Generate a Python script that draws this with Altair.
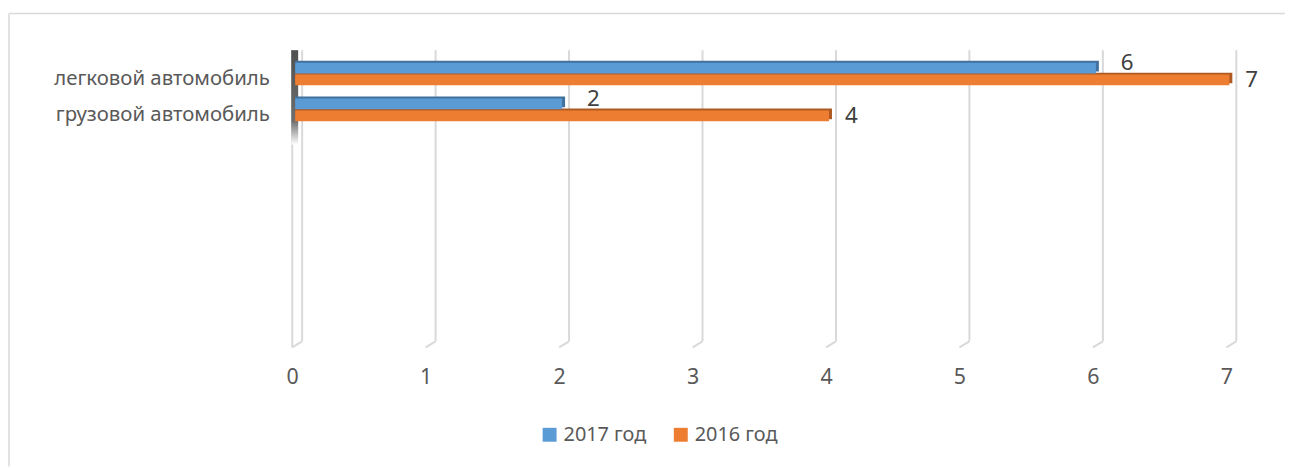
import altair as alt
import pandas as pd

# ---- data ----
categories = ["легковой автомобиль", "грузовой автомобиль"]
series = ["2017 год", "2016 год"]
values_2017 = [6, 2]
values_2016 = [7, 4]
x_ticks = [0, 1, 2, 3, 4, 5, 6, 7]

# ---- styling ----
front_colors = ["#5B9BD5", "#ED7D31"]
depth_colors = ["#41719C", "#AE5A21"]
grid_color = "#D9D9D9"
text_color = "#595959"
value_color = "#404040"
FONT = "Noto Sans"

W, H = 940, 293
PAD = {"left": 289, "top": 41, "right": 56, "bottom": 126}

rows = []
for s, vals in zip(series, [values_2017, values_2016]):
    for c, v in zip(categories, vals):
        rows.append({"category": c, "series": s, "value": v, "key": f"{c}|{s}"})
df = pd.DataFrame(rows)

y_domain = []
for c in categories:
    y_domain += [f"{c}|{s}" for s in series] + [f"{c}|_gap"]

grid_df = pd.DataFrame({"v": x_ticks})
one = pd.DataFrame({"a": [0]})

xscale = alt.Scale(domain=[x_ticks[0], x_ticks[-1]], nice=False, zero=True)
yscale = alt.Scale(domain=y_domain, range=[12, 84], paddingInner=0.1, paddingOuter=0.05)

first = series[0]
label_expr = f"indexof(datum.value, '|{first}') >= 0 ? split(datum.value, '|')[0] : ''"

x_axis = alt.Axis(values=x_ticks, grid=False, domain=False, ticks=False, format="d", title=None,
                  labelFontSize=21.5, labelColor=text_color, labelFont=FONT,
                  labelPadding=25, labelOffset=-3, labelFlush=False)
y_axis = alt.Axis(labelExpr=label_expr, grid=False, domain=False, ticks=False, title=None,
                  labelFontSize=20.5, labelColor=text_color, labelFont=FONT,
                  labelPadding=26, labelOffset=11, labelLimit=500, labelAlign="right")


def X(field):
    return alt.X(field, scale=xscale, stack=None, axis=x_axis, title=None)


def Y(field):
    return alt.Y(field, scale=yscale, axis=y_axis, title=None)


# back-wall gridlines
grid_back = alt.Chart(grid_df).mark_rule(color=grid_color, strokeWidth=2, xOffset=7).encode(
    x=X("v:Q"), y=alt.value(0), y2=alt.value(H),
)
grid_diag = alt.Chart(grid_df).mark_rule(color=grid_color, strokeWidth=2, xOffset=7, x2Offset=-3).encode(
    x=X("v:Q"), x2="v:Q", y=alt.value(H), y2=alt.value(H + 6),
)
wall_front = alt.Chart(grid_df).transform_filter(alt.datum.v == x_ticks[0]).mark_rule(
    color=grid_color, strokeWidth=2, xOffset=-3
).encode(
    x=X("v:Q"), y=alt.value(0), y2=alt.value(H + 6),
)
wall_shade = alt.Chart(grid_df).transform_filter(alt.datum.v == x_ticks[0]).mark_rect(
    xOffset=-4, x2Offset=3,
    color=alt.Gradient(
        gradient="linear", x1=0, x2=0, y1=0, y2=1,
        stops=[alt.GradientStop(offset=0, color="#505050"),
               alt.GradientStop(offset=0.75, color="#6e6e6e"),
               alt.GradientStop(offset=1, color="#ffffff")],
    ),
).encode(
    x=X("v:Q"), x2="v:Q", y=alt.value(0), y2=alt.value(95),
)

depth = alt.Chart(df).mark_bar(xOffset=3, x2Offset=3, yOffset=-2, y2Offset=-2).encode(
    x=X("value:Q"), y=Y("key:N"),
    color=alt.Color("series:N", scale=alt.Scale(domain=series, range=depth_colors), legend=None),
)

front = alt.Chart(df).mark_bar().encode(
    x=X("value:Q"), y=Y("key:N"),
    color=alt.Color("series:N", scale=alt.Scale(domain=series, range=front_colors),
                    legend=alt.Legend(title=None, orient="none", legendX=246, legendY=377,
                                      direction="horizontal", symbolType="square", symbolSize=196,
                                      symbolStrokeWidth=0, labelFontSize=20, labelColor=text_color,
                                      labelFont=FONT, columnPadding=24, labelOffset=4, padding=0)),
)

lab1 = alt.Chart(df).transform_filter(alt.datum.series == series[0]).mark_text(
    align="left", baseline="middle", dx=25, dy=-5, fontSize=22.5, color=value_color, font=FONT
).encode(x=X("value:Q"), y=Y("key:N"), text="value:Q")
lab2 = alt.Chart(df).transform_filter(alt.datum.series == series[1]).mark_text(
    align="left", baseline="middle", dx=16, dy=0, fontSize=22.5, color=value_color, font=FONT
).encode(x=X("value:Q"), y=Y("key:N"), text="value:Q")

border_top = alt.Chart(one).mark_rule(color=grid_color, strokeWidth=1.5).encode(
    x=alt.value(-PAD["left"] + 1), x2=alt.value(W + PAD["right"]), y=alt.value(-37)
)
border_left = alt.Chart(one).mark_rule(color=grid_color, strokeWidth=1.5).encode(
    x=alt.value(-PAD["left"] + 1), y=alt.value(-37), y2=alt.value(H + PAD["bottom"])
)

chart = alt.layer(
    grid_back, grid_diag, wall_front, wall_shade, depth, front, lab1, lab2, border_top, border_left
).resolve_scale(color="independent").properties(
    width=W, height=H, padding=PAD, autosize=alt.AutoSizeParams(type="none"), background="white"
).configure_view(stroke=None)

chart.save("out.html", embed_options={"renderer": "svg", "actions": False})
